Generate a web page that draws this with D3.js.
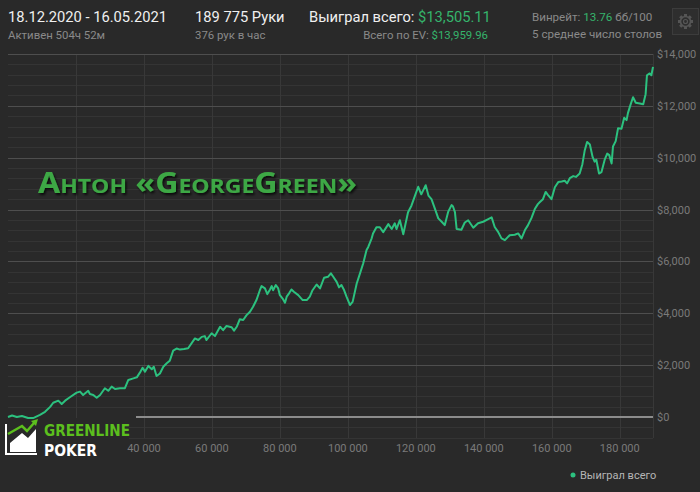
<!DOCTYPE html>
<html><head><meta charset="utf-8">
<script src="https://cdn.jsdelivr.net/npm/d3@7"></script>
<style>html,body{margin:0;padding:0;background:#292929;}svg{display:block;}</style>
</head><body><svg id="c" width="700" height="492"></svg>
<script>
// ---- data ----
const hands = [0,1200,2600,4100,5900,7400,9400,10900,12400,13300,14800,15800,16800,18200,20200,21200,22100,23600,24100,25100,26100,27100,28500,29500,30500,31500,32900,34400,35400,36900,37900,38800,39600,40300,41300,42300,42900,43700,44700,45700,46700,47600,48600,49600,50600,51800,53000,55000,56000,57000,57900,58400,59900,60900,62400,63300,64300,65800,66500,67300,68200,69200,70200,71200,72100,73100,74100,74600,75600,76300,77100,77600,78000,78800,79500,80000,80800,81500,82000,82700,83400,84100,85400,86700,87900,88800,89600,90800,91800,93000,94200,95000,95700,96700,97400,98100,98800,99600,100600,101400,102600,103500,104500,105500,106000,107000,107400,108400,109400,110400,111900,112900,113800,114300,115300,116300,117700,118700,119700,120700,121600,122200,122900,123700,124600,125600,126600,127600,128500,129500,130500,130900,131500,132000,133400,134400,135400,136900,138300,139800,141300,142300,143200,144200,145200,146200,147600,149100,150100,151100,152100,153000,154000,155000,155900,156500,157400,158200,158900,159900,160900,161900,162900,163800,164500,165300,166300,167100,168200,169000,169700,170400,171200,172000,172600,173100,173900,174600,175600,176300,176900,177600,178000,178800,179500,180500,181300,182000,182400,183100,183900,184700,185900,186900,187600,188000,188800,189300,189775];
const winnings = [0,60,0,40,-40,-40,80,200,390,550,630,500,630,760,940,980,850,1010,890,850,740,850,1110,1010,1170,1080,1110,1110,1430,1490,1530,1710,1900,1750,1970,1840,1940,1580,1680,1940,2070,2170,2560,2640,2600,2620,2650,3030,2970,3090,3120,2970,3230,3120,3480,3350,3510,3460,3330,3480,3770,3740,3930,4060,4250,4510,4890,5050,4960,4740,4920,5050,4890,5090,4960,4700,4570,4410,4640,4770,4920,4830,4700,4510,4510,4640,4890,5110,4960,5370,5410,5540,5410,5210,5000,5090,4920,4640,4320,4440,5150,5510,5920,6440,6560,6890,7080,7320,7320,7130,7440,7250,7470,7250,7590,7050,7900,8150,8520,8880,8590,8750,8940,8540,8400,8040,7660,7530,7400,7910,8170,8130,7900,7250,7220,7500,7590,7300,7470,7530,7630,7700,7330,7140,6890,6820,7010,7030,7080,6890,7210,7400,7670,8020,8210,8290,8400,8680,8560,8400,8860,9060,9080,9110,9010,9210,9290,9260,9390,9750,10290,10610,10510,10030,9850,9920,9390,9440,9940,10160,10100,9780,10430,10640,11140,11120,11540,11450,11720,12020,12330,12120,12090,12060,12450,13180,13250,13180,13505.11];
const totalHands = 189775;
const xTickValues = [40000,60000,80000,100000,120000,140000,160000,180000];
const yTickValues = [0,2000,4000,6000,8000,10000,12000,14000];
const gridVerticalValues = [20000,40000,60000,80000,100000,120000,140000,160000,180000];
const minorYStep = 400;
const yGridMin = -800;
const seriesName = "Выиграл всего";
const titleText = "Антон «GeorgeGreen»";

// header texts
const dateRange = "18.12.2020 - 16.05.2021";
const activeText = "Активен 504ч 52м";
const handsText = "189 775 Руки";
const perHourText = "376 рук в час";
const wonLabel = "Выиграл всего: ";
const wonValue = "$13,505.11";
const evLabel = "Всего по EV: ";
const evValue = "$13,959.96";
const winrateLabel = "Винрейт: ";
const winrateValue = "13.76";
const winrateUnit = " бб/100";
const tablesText = "5 среднее число столов";

const GREEN = "#2cc17f";
const svg = d3.select("#c");
const W = 700, H = 492;
svg.append("rect").attr("width", W).attr("height", H).attr("fill", "#292929");

const x = d3.scaleLinear().domain([0, totalHands]).range([8, 653]);
const y = d3.scaleLinear().domain([0, 14000]).range([417, 54]);
const x0 = x.range()[0], x1 = x.range()[1];
const yTop = y(14000), yBot = y(yGridMin);

const grid = svg.append("g").attr("shape-rendering", "crispEdges");
const minorVals = d3.range(yGridMin, 14000 + 1, minorYStep).filter(v => v % 2000 !== 0);
grid.selectAll(".mh").data(minorVals).join("line")
  .attr("x1", x0).attr("x2", x1)
  .attr("y1", d => Math.round(y(d)) + 0.5).attr("y2", d => Math.round(y(d)) + 0.5)
  .attr("stroke", "#343434");
grid.selectAll(".v").data(gridVerticalValues.concat([totalHands])).join("line")
  .attr("x1", d => Math.round(x(d)) + 0.5).attr("x2", d => Math.round(x(d)) + 0.5)
  .attr("y1", yTop).attr("y2", yBot)
  .attr("stroke", "#383838");
grid.selectAll(".Mh").data(yTickValues.filter(v => v !== 0)).join("line")
  .attr("x1", x0).attr("x2", x1)
  .attr("y1", d => Math.round(y(d)) + 0.5).attr("y2", d => Math.round(y(d)) + 0.5)
  .attr("stroke", "#4e4e4e");

// logo background (covers grid in the corner)
svg.append("rect").attr("x", 0).attr("y", 418).attr("width", 129).attr("height", 44).attr("fill", "#292929");

// zero line
svg.append("line").attr("x1", 136).attr("x2", x1)
  .attr("y1", Math.round(y(0))).attr("y2", Math.round(y(0)))
  .attr("stroke", "#8c8c8c").attr("stroke-width", 2).attr("shape-rendering", "crispEdges");

// y axis labels
const fmtY = d => "$" + d3.format(",")(d);
svg.append("g").selectAll("text").data(yTickValues).join("text")
  .attr("x", 657).attr("y", d => y(d) + 4)
  .attr("font-family", "Roboto, sans-serif").attr("font-size", 11)
  .attr("fill", "#7a7a7a").text(fmtY);

// x axis labels
const fmtX = d => d3.format(",")(d).replace(/,/g, " ");
svg.append("g").selectAll("text").data(xTickValues).join("text")
  .attr("x", d => x(d)).attr("y", 452).attr("text-anchor", "middle")
  .attr("font-family", "Roboto, sans-serif").attr("font-size", 11)
  .attr("fill", "#7a7a7a").text(fmtX);

// line
const line = d3.line().x((d, i) => x(hands[i])).y(d => y(d)).curve(d3.curveLinear);
svg.append("path").datum(winnings).attr("d", line)
  .attr("fill", "none").attr("stroke", GREEN).attr("stroke-width", 2)
  .attr("stroke-linejoin", "round");

// title
const defs = svg.append("defs");
const f = defs.append("filter").attr("id", "sh").attr("x", "-10%").attr("y", "-30%").attr("width", "130%").attr("height", "180%");
f.append("feDropShadow").attr("dx", 1.5).attr("dy", 2).attr("stdDeviation", 1.2).attr("flood-color", "#000").attr("flood-opacity", 0.75);
svg.append("text").attr("x", 38).attr("y", 193)
  .attr("font-family", "'Open Sans', sans-serif").attr("font-weight", "bold")
  .attr("font-size", 28).style("font-variant", "small-caps")
  .attr("textLength", 319).attr("lengthAdjust", "spacingAndGlyphs")
  .attr("fill", "#3ea845").attr("filter", "url(#sh)").text(titleText);

// logo
const logo = svg.append("g");
logo.append("path").attr("d", "M6,424 V454 H37").attr("fill", "none").attr("stroke", "#fff").attr("stroke-width", 2);
logo.append("path").attr("d", "M10,452 L10,443 L22,433 L28,438 L36,429 L36,452 Z").attr("fill", "#fff");
logo.append("path").attr("d", "M8,434 L22,426 L27,431 L34,423").attr("fill", "none").attr("stroke", "#5cbf1e").attr("stroke-width", 2.5);
logo.append("path").attr("d", "M31,421 L38,419 L36,426 Z").attr("fill", "#5cbf1e");
logo.append("text").attr("x", 44).attr("y", 436).attr("font-family", "'DejaVu Sans Condensed', 'Liberation Sans Narrow', sans-serif")
  .attr("font-weight", "bold").attr("font-size", 16.5).attr("textLength", 86).attr("lengthAdjust", "spacingAndGlyphs")
  .attr("fill", "#5cbf1e").text("GREENLINE");
logo.append("text").attr("x", 44).attr("y", 455.5).attr("font-family", "'DejaVu Sans Condensed', 'Liberation Sans Narrow', sans-serif")
  .attr("font-weight", "bold").attr("font-size", 16.5).attr("textLength", 53).attr("lengthAdjust", "spacingAndGlyphs")
  .attr("fill", "#fff").text("POKER");

// legend
svg.append("circle").attr("cx", 573).attr("cy", 475).attr("r", 2.5).attr("fill", GREEN);
svg.append("text").attr("x", 580).attr("y", 479).attr("font-family", "Roboto, sans-serif").attr("font-size", 11)
  .attr("fill", "#b5b5b5").text(seriesName);

// header
const hf = "Roboto, sans-serif";
svg.append("text").attr("x", 8).attr("y", 22).attr("font-family", hf).attr("font-size", 14.7).attr("fill", "#f0f0f0").text(dateRange);
svg.append("text").attr("x", 8).attr("y", 39).attr("font-family", hf).attr("font-size", 11.4).attr("fill", "#8a8a8a").text(activeText);
svg.append("text").attr("x", 195).attr("y", 22).attr("font-family", hf).attr("font-size", 14.7).attr("fill", "#f0f0f0").text(handsText);
svg.append("text").attr("x", 195).attr("y", 39).attr("font-family", hf).attr("font-size", 11.4).attr("fill", "#8a8a8a").text(perHourText);
const t1 = svg.append("text").attr("x", 309).attr("y", 22).attr("font-family", hf).attr("font-size", 14.7).attr("fill", "#f0f0f0");
t1.append("tspan").text(wonLabel);
t1.append("tspan").attr("fill", "#35b46c").text(wonValue);
const t2 = svg.append("text").attr("x", 488).attr("y", 39).attr("text-anchor", "end").attr("font-family", hf).attr("font-size", 11.4).attr("fill", "#8a8a8a");
t2.append("tspan").text(evLabel);
t2.append("tspan").attr("fill", "#35b46c").text(evValue);
const t3 = svg.append("text").attr("x", 532).attr("y", 21).attr("font-family", hf).attr("font-size", 11.6).attr("fill", "#8a8a8a");
t3.append("tspan").text(winrateLabel);
t3.append("tspan").attr("fill", "#35b46c").text(winrateValue);
t3.append("tspan").text(winrateUnit);
svg.append("text").attr("x", 532).attr("y", 38).attr("font-family", hf).attr("font-size", 11.6).attr("fill", "#8a8a8a").text(tablesText);

// gear button
const gear = svg.append("g");
gear.append("rect").attr("x", 672.5).attr("y", 8.5).attr("width", 26).attr("height", 26).attr("fill", "#2e2e2e").attr("stroke", "#3c3c3c");
const gc = [685.5, 21.5];
const teeth = d3.range(8).map(i => i * 45);
gear.selectAll(".tooth").data(teeth).join("rect")
  .attr("x", gc[0] - 1.5).attr("y", gc[1] - 7.5).attr("width", 3).attr("height", 3)
  .attr("fill", "#555").attr("transform", d => `rotate(${d},${gc[0]},${gc[1]})`);
gear.append("circle").attr("cx", gc[0]).attr("cy", gc[1]).attr("r", 5).attr("fill", "none").attr("stroke", "#555").attr("stroke-width", 1.6);
gear.append("circle").attr("cx", gc[0]).attr("cy", gc[1]).attr("r", 2).attr("fill", "none").attr("stroke", "#555").attr("stroke-width", 1.2);
</script>
</body></html>
